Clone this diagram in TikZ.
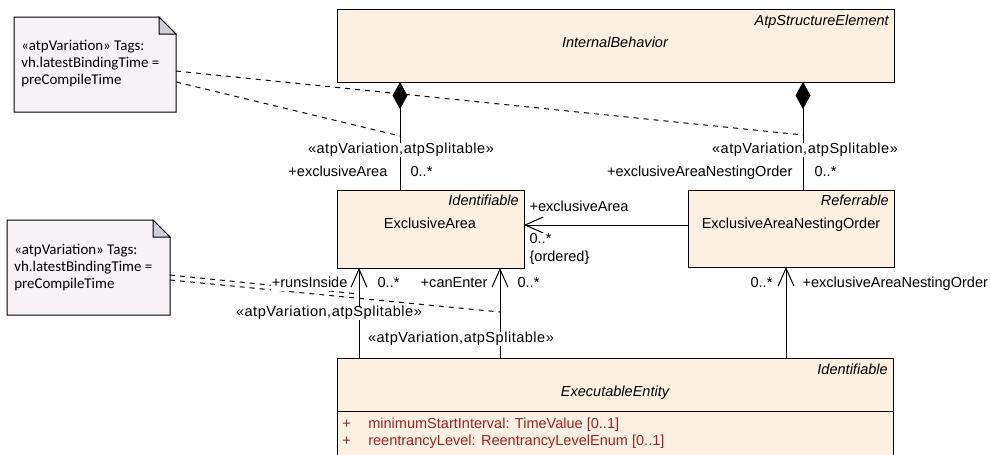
\documentclass[tikz,border=0pt]{standalone}
\usepackage{fontspec}
\setmainfont{Liberation Sans}
\newfontfamily\notefont{Carlito}
\newfontfamily\stereofont[LetterSpace=3.5]{Liberation Sans}
\usetikzlibrary{arrows.meta}
\definecolor{clsfill}{RGB}{251,240,225}
\definecolor{notefill}{RGB}{246,242,246}
\definecolor{foldfill}{RGB}{208,206,214}
\definecolor{attrred}{RGB}{155,35,35}
\newcommand{\stereo}[1]{{\stereofont «#1»}}
\begin{document}
\begin{tikzpicture}[x=0.75pt,y=-0.75pt,
  every node/.style={font=\fontsize{10.9pt}{13pt}\selectfont},
  cls/.style={draw, fill=clsfill, line width=0.75pt, outer sep=0pt, inner sep=0pt, anchor=north west},
  txt/.style={inner sep=0pt, text height=0.72em, text depth=0.2em},
  lbl/.style={fill=white, inner sep=1pt, text height=0.72em, text depth=0.2em},
  attr/.style={txt, text=attrred, anchor=west},
  conn/.style={line width=0.75pt},
  comp/.style={conn, {Diamond[length=20.25pt,width=11.25pt]}-},
  nav/.style={conn, -{Straight Barb[length=13.5pt,width=12pt]}},
  notelink/.style={line width=0.75pt, dash pattern=on 3.75pt off 3.75pt},
  noteshape/.style={draw, fill=notefill, line width=0.75pt},
  fold/.style={draw, fill=foldfill, line width=0.75pt, line join=miter},
  notetxt/.style={font=\notefont\fontsize{11.2pt}{12.75pt}\selectfont, align=left, anchor=north west, inner sep=0pt}
]
\useasboundingbox (0,0) rectangle (990,454);

% ---------- notes ----------
\draw[noteshape] (14,17) -- (159,17) -- (176,34) -- (176,112) -- (14,112) -- cycle;
\draw[fold] (159,17) -- (176,34) -- (159,34) -- cycle;
\node[notetxt] (note1) at (21,40) {«atpVariation» Tags:\\vh.latestBindingTime =\\preCompileTime};

\draw[noteshape] (7,220) -- (153,220) -- (170,237) -- (170,315) -- (7,315) -- cycle;
\draw[fold] (153,220) -- (170,237) -- (153,237) -- cycle;
\node[notetxt] (note2) at (14,244) {«atpVariation» Tags:\\vh.latestBindingTime =\\preCompileTime};

% ---------- classes ----------
\node[cls, minimum width=557*0.75pt, minimum height=73*0.75pt] (ib) at (337,9) {};
\node[txt, anchor=east] (ibst) at (889,22) {\itshape AtpStructureElement};
\node[txt] (ibname) at (615,44) {\itshape InternalBehavior};

\node[cls, minimum width=187*0.75pt, minimum height=78*0.75pt] (ea) at (337,190) {};
\node[txt, anchor=east] (east) at (519,202) {\itshape Identifiable};
\node[txt] (eaname) at (430,225) {ExclusiveArea};

\node[cls, minimum width=206*0.75pt, minimum height=77*0.75pt] (eno) at (688,190) {};
\node[txt, anchor=east] (enost) at (889,202) {\itshape Referrable};
\node[txt] (enoname) at (791,225) {ExclusiveAreaNestingOrder};

\node[cls, minimum width=556*0.75pt, minimum height=110*0.75pt] (ee) at (337,358) {};
\node[txt, anchor=east] (eest) at (888,371) {\itshape Identifiable};
\node[txt] (eename) at (615,393) {\itshape ExecutableEntity};
\coordinate (div) at (0,411);
\draw[conn] (ee.west |- div) -- (ee.east |- div);
\node[attr] (a1p) at (342,425) {+};
\node[attr] (a1) at (368,425) {minimumStartInterval: TimeValue [0..1]};
\node[attr] (a2p) at (342,442) {+};
\node[attr] (a2) at (368,442) {reentrancyLevel: ReentrancyLevelEnum [0..1]};

% ---------- dashed note links ----------
\coordinate (n1a) at (176,71);
\coordinate (n1b) at (176,82);
\coordinate (n2a) at (170,275);
\coordinate (n2b) at (170,280);
\coordinate (m1) at (400,136);
\coordinate (m2) at (803,135);
\coordinate (m3) at (359,294);
\coordinate (m4) at (500,312);
\draw[notelink] (n1a) -- (m2);
\draw[notelink] (n1b) -- (m1);
\draw[notelink] (n2a) -- (m3);
\draw[notelink] (n2b) -- (m4);

% ---------- connectors ----------
\coordinate (xl) at (400,0);
\coordinate (xr) at (803,0);
\coordinate (x1) at (359,0);
\coordinate (x2) at (500,0);
\coordinate (x3) at (786,0);
\coordinate (ya) at (0,225);

\draw[comp] (ib.south -| xl) -- (ea.north -| xl);
\draw[comp] (ib.south -| xr) -- (eno.north -| xr);
\draw[nav] (eno.west |- ya) -- (ea.east |- ya);
\draw[nav] (ee.north -| x1) -- (ea.south -| x1);
\draw[nav] (ee.north -| x2) -- (ea.south -| x2);
\draw[nav] (ee.north -| x3) -- (eno.south -| x3);

% ---------- labels ----------
\node[lbl] (s1) at (401,150) {\stereo{atpVariation,atpSplitable}};
\node[lbl, anchor=east] (r1) at (389,173) {+exclusiveArea};
\node[lbl, anchor=west] (c1) at (409,173) {0..*};

\node[lbl] (s2) at (805,150) {\stereo{atpVariation,atpSplitable}};
\node[lbl, anchor=east] (r2) at (794,173) {+exclusiveAreaNestingOrder};
\node[lbl, anchor=west] (c2) at (813,173) {0..*};

\node[lbl, anchor=west] (r3) at (528,208) {+exclusiveArea};
\node[lbl, anchor=west] (c3) at (528,240) {0..*};
\node[lbl, anchor=west] (o3) at (528,258) {\{ordered\}};

\node[lbl, anchor=east] (r4) at (349,284) {+runsInside};
\node[lbl, anchor=west] (c4) at (376,284) {0..*};
\node[lbl, anchor=east] (r5) at (489,284) {+canEnter};
\node[lbl, anchor=west] (c5) at (516,284) {0..*};
\node[lbl, anchor=east] (c6) at (774,284) {0..*};
\node[lbl, anchor=west] (r6) at (801,284) {+exclusiveAreaNestingOrder};

\node[lbl] (s4) at (329,313) {\stereo{atpVariation,atpSplitable}};
\node[lbl] (s5) at (461,339) {\stereo{atpVariation,atpSplitable}};
\end{tikzpicture}
\end{document}
